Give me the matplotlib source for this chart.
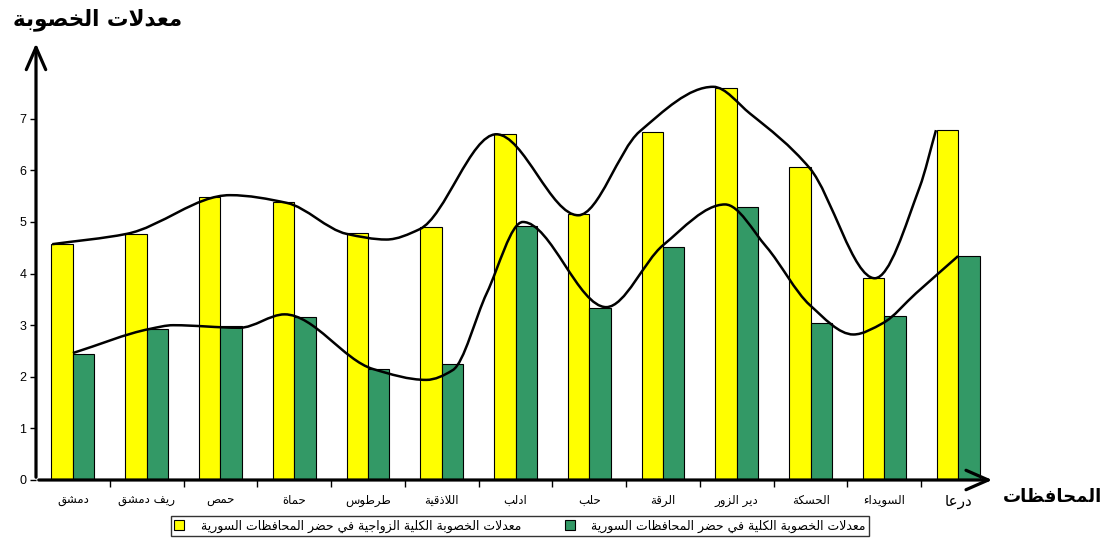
import numpy as np
import matplotlib
matplotlib.use("Agg")
import matplotlib.pyplot as plt
from matplotlib.path import Path
from matplotlib.patches import PathPatch

plt.rcParams['font.family'] = ['Liberation Sans', 'DejaVu Sans']

# governorates (left to right as in the picture)
regions = ['دمشق', 'ريف دمشق', 'حمص', 'حماة', 'طرطوس', 'اللاذقية', 'ادلب',
           'حلب', 'الرقة', 'دير الزور', 'الحسكة', 'السويداء', 'درعا']
marital_tfr = [4.57, 4.77, 5.48, 5.39, 4.78, 4.90, 6.70, 5.15, 6.74, 7.60, 6.07, 3.91, 6.78]
total_tfr = [2.44, 2.93, 2.98, 3.16, 2.15, 2.25, 4.92, 3.33, 4.52, 5.29, 3.04, 3.18, 4.34]

label_marital = 'معدلات الخصوبة الكلية الزواجية في حضر المحافظات السورية'
label_total = 'معدلات الخصوبة الكلية في حضر المحافظات السورية'
title_txt = 'معدلات الخصوبة'
xlabel_txt = 'المحافظات'

# hand drawn trend curves (knots, data coords)
upper_x = [-0.28, 0.73, 2.13, 2.90, 3.71, 4.25, 4.70, 5.74, 6.85, 7.68, 8.68,
           9.18, 9.99, 10.87, 11.48, 11.70]
upper_y = [4.57, 4.77, 5.52, 5.37, 4.77, 4.66, 4.86, 6.70, 5.13, 6.75, 7.62,
           7.10, 6.04, 3.91, 5.68, 6.78]
lower_x = [0.0, 1.05, 1.36, 2.26, 2.87, 4.07, 4.79, 5.15, 5.61, 6.10,
           7.23, 8.0, 8.84, 9.40, 9.99, 10.58, 10.98, 11.43, 12.0]
lower_y = [2.46, 2.93, 3.00, 2.95, 3.21, 2.15, 1.94, 2.13, 3.62, 5.00,
           3.35, 4.55, 5.34, 4.52, 3.39, 2.82, 3.04, 3.62, 4.34]

# arabic shaping (matplotlib has no complex text layout)
_right = {'آ': 0xFE81, 'أ': 0xFE83, 'ؤ': 0xFE85, 'إ': 0xFE87, 'ا': 0xFE8D, 'ة': 0xFE93,
          'د': 0xFEA9, 'ذ': 0xFEAB, 'ر': 0xFEAD, 'ز': 0xFEAF, 'و': 0xFEED, 'ى': 0xFEEF}
_dual = {'ئ': 0xFE89, 'ب': 0xFE8F, 'ت': 0xFE95, 'ث': 0xFE99, 'ج': 0xFE9D, 'ح': 0xFEA1,
         'خ': 0xFEA5, 'س': 0xFEB1, 'ش': 0xFEB5, 'ص': 0xFEB9, 'ض': 0xFEBD, 'ط': 0xFEC1,
         'ظ': 0xFEC5, 'ع': 0xFEC9, 'غ': 0xFECD, 'ف': 0xFED1, 'ق': 0xFED5, 'ك': 0xFED9,
         'ل': 0xFEDD, 'م': 0xFEE1, 'ن': 0xFEE5, 'ه': 0xFEE9, 'ي': 0xFEF1}
_lam_alef = {'آ': 0xFEF5, 'أ': 0xFEF7, 'إ': 0xFEF9, 'ا': 0xFEFB}


def ar(text):
    out = []
    n = len(text)
    i = 0
    prev_joins = False
    while i < n:
        c = text[i]
        if c == 'ل' and i + 1 < n and text[i + 1] in _lam_alef:
            out.append(chr(_lam_alef[text[i + 1]] + (1 if prev_joins else 0)))
            prev_joins = False
            i += 2
            continue
        if c in _dual or c in _right:
            base = _dual.get(c, _right.get(c))
            nxt = text[i + 1] if i + 1 < n else ''
            next_joins = c in _dual and (nxt in _dual or nxt in _right)
            if prev_joins and next_joins:
                code = base + 3
            elif prev_joins:
                code = base + 1
            elif next_joins:
                code = base + 2
            else:
                code = base
            out.append(chr(code))
            prev_joins = c in _dual
        else:
            out.append(c)
            prev_joins = False
        i += 1
    return ''.join(reversed(out))


def smooth_path(xs, ys):
    # pchip style tangents, curve drawn as bezier segments
    xs = np.asarray(xs, float)
    ys = np.asarray(ys, float)
    n = len(xs)
    h = np.diff(xs)
    d = np.diff(ys) / h
    m = np.zeros(n)
    m[0], m[-1] = d[0], d[-1]
    for k in range(1, n - 1):
        if d[k - 1] * d[k] > 0:
            w1 = 2 * h[k] + h[k - 1]
            w2 = h[k] + 2 * h[k - 1]
            m[k] = (w1 + w2) / (w1 / d[k - 1] + w2 / d[k])
    verts = [(xs[0], ys[0])]
    codes = [Path.MOVETO]
    for k in range(n - 1):
        t = h[k] / 3
        verts += [(xs[k] + t, ys[k] + m[k] * t), (xs[k + 1] - t, ys[k + 1] - m[k + 1] * t),
                  (xs[k + 1], ys[k + 1])]
        codes += [Path.CURVE4] * 3
    return Path(verts, codes)


fig = plt.figure(figsize=(11.05, 5.43), dpi=100)
ax = fig.add_axes([36 / 1105, 63 / 543, (995 - 36) / 1105, (480 - 45) / 543])

x = np.arange(len(regions))
w = 0.29
b1 = ax.bar(x - w / 2, marital_tfr, w, color='#FFFF00', edgecolor='black', linewidth=0.8, zorder=2)
b2 = ax.bar(x + w / 2, total_tfr, w, color='#339966', edgecolor='black', linewidth=0.8, zorder=2)

for xs, ys in [(upper_x, upper_y), (lower_x, lower_y)]:
    ax.add_patch(PathPatch(smooth_path(xs, ys), facecolor='none', edgecolor='black', lw=1.8, zorder=3))

ax.set_xlim(-0.5, 12.5)
ax.set_ylim(0, 8.43)
ax.set_yticks(range(8))
ax.tick_params(axis='y', length=4, width=1, labelsize=9, pad=3)
ax.set_xticks(x)
ax.set_xticklabels([ar(r) for r in regions], fontsize=8.5, family='DejaVu Sans')
ax.set_xticks(np.arange(0.5, 12.5, 1), minor=True)
ax.tick_params(axis='x', which='major', length=0, pad=10)
ax.tick_params(axis='x', which='minor', length=5, width=1)
ax.get_xticklabels()[-1].set_fontsize(11)

for s in ax.spines.values():
    s.set_visible(False)
arrow = dict(arrowstyle='->,head_length=0.8,head_width=0.35', lw=2.3, color='black', mutation_scale=20)
ax.annotate('', xy=(1.0, 0), xytext=(0, 0), xycoords='axes fraction', arrowprops=arrow)
ax.annotate('', xy=(0, 1.01), xytext=(0, 0), xycoords='axes fraction', arrowprops=arrow)

fig.text(98 / 1105, 1 - 20 / 543, ar(title_txt), fontsize=15.5, fontweight='bold',
         family='DejaVu Sans', ha='center', va='center')
fig.text(1052 / 1105, 1 - 497 / 543, ar(xlabel_txt), fontsize=13, fontweight='bold',
         family='DejaVu Sans', ha='center', va='center')

fig.legend([b1, b2], [ar(label_marital), ar(label_total)], ncol=2, loc='center',
           bbox_to_anchor=(520 / 1105, 17 / 543), prop={'family': 'DejaVu Sans', 'size': 9},
           frameon=True, fancybox=False, edgecolor='black', handlelength=0.8, handleheight=0.8,
           columnspacing=3.5, borderpad=0.3, handletextpad=1.3)

fig.savefig('out.png', dpi=100)
